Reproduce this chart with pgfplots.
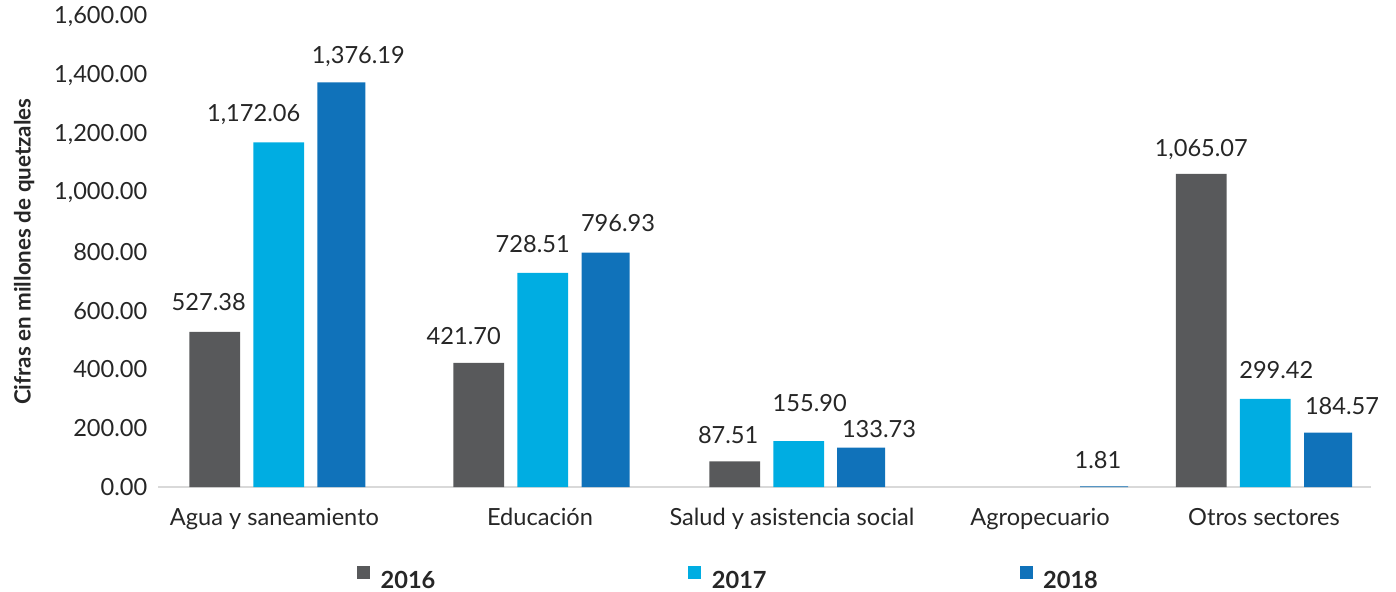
\documentclass[border=0pt]{standalone}
\usepackage{fontspec}
\setmainfont{Lato}
\usepackage{pgfplots}
\pgfplotsset{compat=1.18}
\definecolor{cgray}{HTML}{58595B}
\definecolor{clight}{HTML}{00ADE2}
\definecolor{cdark}{HTML}{1072BA}
\definecolor{caxis}{HTML}{D9D9D9}
\definecolor{ctext}{HTML}{262626}
\newcommand\fs{\fontsize{23.6bp}{28bp}\selectfont}
\newcommand\lbl{\raisebox{0pt}[\height][0pt]{\pgfmathprintnumber[fixed,fixed zerofill,precision=2,1000 sep={,},assume math mode=true]{\pgfplotspointmeta}}}
\pgfplotsset{sqleg/.style={legend image code/.code={\fill[##1] (0bp,1.8bp) rectangle (13bp,14.8bp);}}}
\begin{document}
\begin{tikzpicture}
\useasboundingbox (0,0) rectangle (1396bp,592bp);
\begin{axis}[
  at={(158bp,105bp)}, anchor=south west,
  scale only axis, width=1213bp, height=470.5bp,
  xmin=158, xmax=1371, ymin=0, ymax=1600,
  clip=false,
  axis x line*=bottom, axis y line*=left,
  x axis line style={draw=caxis, line width=2bp, -},
  y axis line style={draw=none},
  major tick length=0pt,
  tick label style={font=\fs, text=ctext},
  /pgf/number format/assume math mode=true,
  scaled y ticks=false,
  ytick={0,200,...,1600},
  yticklabel style={anchor=east, inner sep=0pt, xshift=-10.5bp,
    /pgf/number format/.cd, fixed, fixed zerofill, precision=2, 1000 sep={,}},
  xtick={274.5,540,792,1040,1264},
  xticklabels={Agua y saneamiento, Educación, Salud y asistencia social, Agropecuario, Otros sectores},
  xticklabel style={anchor=base, inner sep=0pt, yshift=-38bp},
  ylabel={Cifras en millones de quetzales},
  ylabel style={font=\bfseries\fontsize{22.4bp}{26bp}\selectfont, text=ctext, at={(axis description cs:-0.1051,0.5)}, anchor=base},
  legend columns=3,
  legend style={at={(axis description cs:0.164,-0.1934)}, anchor=west, draw=none, fill=none, inner sep=0pt,
    font=\bfseries\fs, text=ctext, nodes={inner sep=0pt},
    /tikz/every odd column/.append style={column sep=10.5bp},
    /tikz/every even column/.append style={column sep=253bp}},
  nodes near coords=\lbl,
  every node near coord/.append style={font=\fs, text=ctext, inner sep=0pt, anchor=south, xshift={\dx*1bp}, yshift={\dy*1bp}},
]
\addplot[ybar, bar shift=0pt, bar width=50.7, fill=cgray, draw=none, sqleg,
  visualization depends on={\thisrow{dx} \as \dx},
  visualization depends on={\thisrow{dy} \as \dy}]
  table[x=x,y=y]{
x y dx dy
214.7 527.38 -6 21
478.7 421.70 -15 18
734.7 87.51 -6.5 18
1201.3 1065.07 0 17
};
\addlegendentry{2016}
\addplot[ybar, bar shift=0pt, bar width=50.7, fill=clight, draw=none, sqleg,
  visualization depends on={\thisrow{dx} \as \dx},
  visualization depends on={\thisrow{dy} \as \dy}]
  table[x=x,y=y]{
x y dx dy
278.7 1172.06 -25 20.6
542.7 728.51 -10 20
798.7 155.90 11 29
1265.3 299.42 11 20
};
\addlegendentry{2017}
\addplot[ybar, bar shift=0pt, bar width=48, fill=cdark, draw=none, sqleg,
  visualization depends on={\thisrow{dx} \as \dx},
  visualization depends on={\thisrow{dy} \as \dy}]
  table[x=x,y=y]{
x y dx dy
341.3 1376.19 17 18.4
605.5 796.93 12.5 20.6
861 133.73 18 10
1104 1.81 -6 18
1328 184.57 14 18
};
\addlegendentry{2018}
\end{axis}
\end{tikzpicture}
\end{document}
